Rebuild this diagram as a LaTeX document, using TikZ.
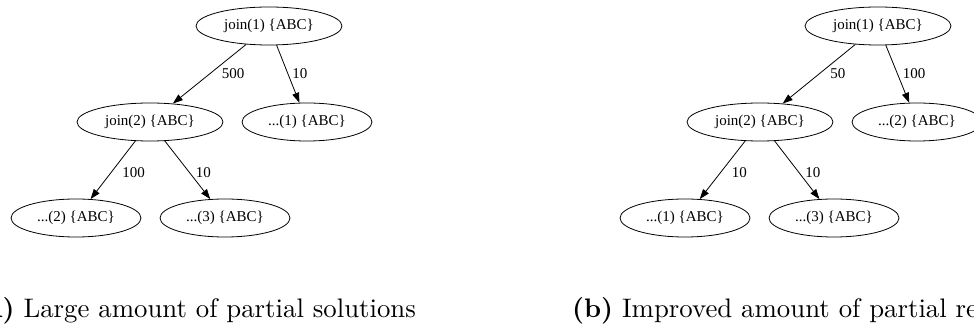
\documentclass[tikz,border=0pt]{standalone}
\usepackage{fontspec}
\usetikzlibrary{arrows.meta,shapes.geometric}
\newfontfamily\gvfont{Liberation Serif}
\begin{document}
\begin{tikzpicture}[x=1pt,y=-1pt,
  gvnode/.style={draw,ellipse,line width=0.8pt,inner sep=0pt,
    minimum height=38pt,font=\gvfont\fontsize{15}{18}\selectfont},
  joinnode/.style={gvnode,minimum width=146pt},
  leafnode/.style={gvnode,minimum width=130pt},
  gvedge/.style={line width=0.8pt,-{Triangle[length=10pt,width=7pt]}},
  elabel/.style={anchor=west,inner sep=0pt,font=\gvfont\fontsize{15}{18}\selectfont},
  caption/.style={anchor=base west,inner sep=0pt,font=\fontsize{10}{12}\selectfont,scale=2.68}]
\useasboundingbox (0,0) rectangle (974,328);
\clip (0,0) rectangle (974,328);

% left tree
\node[joinnode] (aj1) at (269,26) {join(1) \{ABC\}};
\node[joinnode] (aj2) at (150,122) {join(2) \{ABC\}};
\node[leafnode] (al1) at (307,122) {...(1) \{ABC\}};
\node[leafnode] (al2) at (76,218) {...(2) \{ABC\}};
\node[leafnode] (al3) at (225,218) {...(3) \{ABC\}};
\draw[gvedge] (aj1) -- (aj2) node[elabel,pos=0.5,xshift=12pt] {500};
\draw[gvedge] (aj1) -- (al1) node[elabel,pos=0.5,xshift=4pt] {10};
\draw[gvedge] (aj2) -- (al2) node[elabel,pos=0.5,xshift=9pt,yshift=-3pt] {100};
\draw[gvedge] (aj2) -- (al3) node[elabel,pos=0.5,xshift=8pt,yshift=-3pt] {10};

% right tree
\node[joinnode] (bj1) at (878,26) {join(1) \{ABC\}};
\node[joinnode] (bj2) at (760,122) {join(2) \{ABC\}};
\node[leafnode] (bl2) at (917,122) {...(2) \{ABC\}};
\node[leafnode] (bl1) at (685,218) {...(1) \{ABC\}};
\node[leafnode] (bl3) at (834,218) {...(3) \{ABC\}};
\draw[gvedge] (bj1) -- (bj2) node[elabel,pos=0.5,xshift=11pt] {50};
\draw[gvedge] (bj1) -- (bl2) node[elabel,pos=0.5,xshift=5pt] {100};
\draw[gvedge] (bj2) -- (bl1) node[elabel,pos=0.5,xshift=9pt,yshift=-3pt] {10};
\draw[gvedge] (bj2) -- (bl3) node[elabel,pos=0.5,xshift=8pt,yshift=-3pt] {10};

% captions
\node[caption] (capa) at (-24.9,318) {\textbf{(a)} Large amount of partial solutions};
\node[caption] (capb) at (571.5,318) {\textbf{(b)} Improved amount of partial results};
\end{tikzpicture}
\end{document}
